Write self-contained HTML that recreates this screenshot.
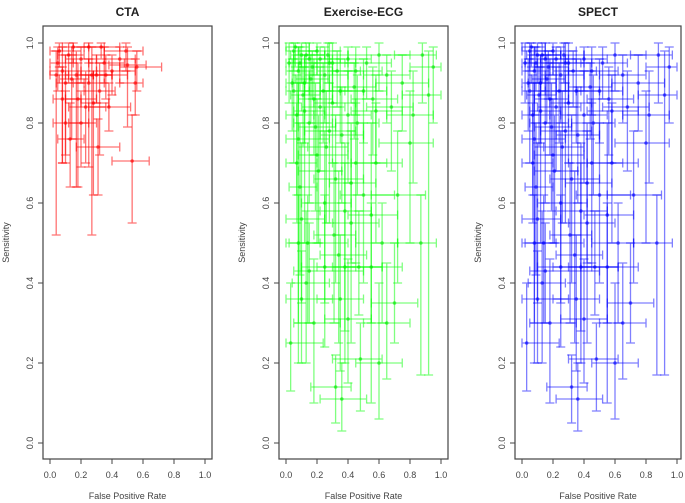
<!DOCTYPE html>
<html><head><meta charset="utf-8"><style>
html,body{margin:0;padding:0;background:#fff}
svg{display:block;font-family:"Liberation Sans",Arial,sans-serif}
</style></head><body>
<svg id="chart" width="685" height="503" viewBox="0 0 685 503"></svg>
<script>
const ctaFpr=[0.04,0.27,0.53,0.31,0.28,0.08,0.10,0.18,0.23,0.49,0.56,0.50,0.35,0.33,0.12,0.05,0.15,0.20,0.30,0.36,0.40,0.55,0.08,0.14,0.17,0.25,0.32,0.06,0.25,0.45,0.38,0.10,0.13,0.20];
const ctaSens=[0.92,0.92,0.705,0.74,0.85,0.86,0.90,0.86,0.84,0.98,0.94,0.945,0.95,0.99,0.97,0.95,0.99,0.96,0.92,0.92,0.93,0.90,0.93,0.91,0.92,0.90,0.88,0.98,0.99,0.96,0.84,0.80,0.76,0.80];
const ctaFprLo=[0.0,0.18,0.40,0.17,0.20,0.02,0.04,0.10,0.12,0.35,0.45,0.38,0.25,0.22,0.05,0.0,0.08,0.10,0.20,0.28,0.30,0.45,0.0,0.06,0.10,0.15,0.22,0.0,0.15,0.35,0.25,0.02,0.05,0.12];
const ctaFprHi=[0.12,0.40,0.64,0.45,0.38,0.20,0.22,0.30,0.36,0.60,0.72,0.62,0.48,0.45,0.22,0.15,0.25,0.30,0.40,0.50,0.55,0.60,0.20,0.25,0.28,0.35,0.42,0.14,0.35,0.55,0.52,0.25,0.22,0.30];
const ctaSensLo=[0.52,0.52,0.55,0.62,0.62,0.70,0.72,0.64,0.70,0.93,0.88,0.79,0.90,0.96,0.90,0.88,0.95,0.90,0.85,0.86,0.87,0.82,0.70,0.76,0.64,0.69,0.72,0.94,0.95,0.90,0.78,0.70,0.64,0.69];
const ctaSensHi=[0.98,0.99,0.82,0.81,0.93,0.94,0.97,0.95,0.93,1.0,0.98,0.99,0.99,1.0,1.0,0.99,1.0,0.99,0.97,0.97,0.97,0.96,0.99,0.97,0.98,0.96,0.95,1.0,1.0,0.99,0.90,0.88,0.85,0.88];

const ecgFpr=[0.05,0.10,0.15,0.20,0.08,0.12,0.25,0.30,0.45,0.60,0.88,0.95,0.05,0.18,0.35,0.12,0.22,0.40,0.92,0.58,0.08,0.15,0.28,0.45,0.20,0.32,0.50,0.25,0.38,0.10,0.55,0.42,0.08,0.14,0.62,0.87,0.34,0.38,0.47,0.55,0.25,0.15,0.35,0.10,0.03,0.40,0.48,0.32,0.36,0.70,0.65,0.80,0.72,0.18,0.60,0.02,0.07,0.28,0.50,0.75,
0.06,0.09,0.13,0.17,0.22,0.27,0.33,0.40,0.52,0.65,0.04,0.11,0.16,0.24,0.30,0.44,0.56,0.68,0.07,0.19,0.26,0.36,0.09,0.21,0.31,0.42,0.13,0.46,0.58,0.82];
const ecgSens=[0.98,0.97,0.96,0.98,0.93,0.90,0.92,0.95,0.93,0.97,0.97,0.94,0.88,0.86,0.88,0.83,0.84,0.82,0.87,0.83,0.76,0.80,0.78,0.70,0.72,0.66,0.62,0.60,0.58,0.56,0.57,0.55,0.50,0.50,0.50,0.50,0.47,0.44,0.44,0.44,0.44,0.43,0.36,0.36,0.25,0.31,0.21,0.14,0.11,0.35,0.30,0.75,0.62,0.30,0.20,0.95,0.70,0.95,0.88,0.90,
0.99,0.95,0.97,0.94,0.96,0.97,0.93,0.96,0.95,0.92,0.90,0.87,0.91,0.88,0.85,0.89,0.86,0.84,0.82,0.79,0.74,0.77,0.64,0.68,0.52,0.65,0.40,0.80,0.70,0.82];
const ecgFprLo=[0.0,0.03,0.05,0.08,0.0,0.04,0.15,0.18,0.30,0.40,0.70,0.80,0.0,0.08,0.22,0.05,0.10,0.25,0.75,0.42,0.0,0.05,0.12,0.30,0.08,0.18,0.35,0.10,0.22,0.0,0.40,0.30,0.0,0.02,0.45,0.72,0.22,0.20,0.30,0.38,0.10,0.05,0.20,0.0,0.0,0.25,0.30,0.16,0.22,0.55,0.50,0.60,0.55,0.05,0.45,0.0,0.0,0.12,0.35,0.58,
0.0,0.02,0.05,0.08,0.12,0.15,0.20,0.28,0.38,0.50,0.0,0.03,0.06,0.12,0.18,0.30,0.42,0.52,0.0,0.08,0.14,0.22,0.02,0.08,0.18,0.28,0.04,0.32,0.42,0.65];
const ecgFprHi=[0.2,0.25,0.30,0.35,0.18,0.22,0.40,0.45,0.62,0.80,0.97,1.0,0.15,0.30,0.50,0.25,0.38,0.55,1.0,0.75,0.28,0.30,0.45,0.65,0.40,0.50,0.70,0.42,0.55,0.25,0.72,0.60,0.22,0.40,0.72,0.97,0.52,0.62,0.62,0.75,0.45,0.50,0.50,0.30,0.24,0.55,0.62,0.42,0.52,0.85,0.80,0.95,0.90,0.35,0.75,0.10,0.20,0.40,0.65,0.92,
0.15,0.20,0.25,0.30,0.35,0.40,0.48,0.55,0.68,0.80,0.12,0.22,0.28,0.38,0.45,0.58,0.72,0.82,0.18,0.32,0.40,0.50,0.20,0.36,0.45,0.58,0.28,0.60,0.75,0.95];
const ecgSensLo=[0.93,0.90,0.88,0.92,0.82,0.75,0.80,0.85,0.82,0.88,0.85,0.80,0.70,0.72,0.75,0.50,0.68,0.65,0.17,0.70,0.20,0.60,0.55,0.45,0.50,0.40,0.40,0.35,0.20,0.35,0.30,0.25,0.30,0.30,0.30,0.17,0.25,0.28,0.32,0.10,0.24,0.30,0.18,0.20,0.13,0.15,0.08,0.05,0.03,0.25,0.16,0.50,0.40,0.10,0.06,0.85,0.55,0.88,0.75,0.78,
0.94,0.88,0.90,0.86,0.88,0.90,0.84,0.88,0.86,0.80,0.78,0.74,0.80,0.75,0.70,0.76,0.72,0.68,0.62,0.58,0.55,0.60,0.42,0.50,0.30,0.45,0.20,0.62,0.50,0.65];
const ecgSensHi=[1.0,1.0,1.0,1.0,0.99,0.97,0.99,1.0,0.99,1.0,1.0,0.99,0.96,0.95,0.96,0.94,0.94,0.93,0.98,0.92,0.90,0.92,0.90,0.85,0.86,0.82,0.80,0.78,0.75,0.75,0.80,0.78,0.62,0.62,0.60,0.62,0.68,0.70,0.58,0.60,0.62,0.55,0.52,0.48,0.40,0.46,0.30,0.22,0.20,0.50,0.45,0.88,0.78,0.46,0.40,1.0,0.85,1.0,0.96,0.97,
1.0,0.99,1.0,0.98,0.99,1.0,0.98,0.99,0.99,0.97,0.96,0.94,0.97,0.95,0.93,0.95,0.94,0.93,0.92,0.90,0.88,0.89,0.80,0.82,0.70,0.80,0.58,0.92,0.85,0.93];

const spectFpr=[...ecgFpr];
const spectSens=[...ecgSens];
const spectFprLo=[...ecgFprLo];
const spectFprHi=[...ecgFprHi];
const spectSensLo=[...ecgSensLo];
const spectSensHi=[...ecgSensHi];

const xTickLabels=["0.0","0.2","0.4","0.6","0.8","1.0"];
const yTickLabels=["0.0","0.2","0.4","0.6","0.8","1.0"];

const NS="http://www.w3.org/2000/svg";
const svgEl=document.getElementById('chart');
function mk(tag,attrs,parent){const e=document.createElementNS(NS,tag);for(const k in attrs)e.setAttribute(k,attrs[k]);(parent||svgEl).appendChild(e);return e;}

const panels=[
 {key:'cta',title:'CTA',left:43,right:212,x0:50,color:'rgba(255,0,0,0.55)',dot:'rgba(255,0,0,0.6)',f:ctaFpr,s:ctaSens,fl:ctaFprLo,fh:ctaFprHi,sl:ctaSensLo,sh:ctaSensHi},
 {key:'exercise-ecg',title:'Exercise-ECG',left:279,right:448,x0:286,color:'rgba(0,255,0,0.5)',dot:'rgba(0,230,0,0.6)',f:ecgFpr,s:ecgSens,fl:ecgFprLo,fh:ecgFprHi,sl:ecgSensLo,sh:ecgSensHi},
 {key:'spect',title:'SPECT',left:515,right:681,x0:522,color:'rgba(0,0,255,0.5)',dot:'rgba(0,0,255,0.6)',f:spectFpr,s:spectSens,fl:spectFprLo,fh:spectFprHi,sl:spectSensLo,sh:spectSensHi}
];
const plotTop=26,plotBottom=459,cap=4.5;
function yS(v){return 443-400*v;}

panels.forEach(p=>{
 const g=mk('g',{});
 
 
 const xS=v=>p.x0+155*v;
 const t=mk('text',{x:(p.left+p.right)/2,y:16,'text-anchor':'middle','font-size':'12','font-weight':'bold',fill:'#222'},g);
 t.textContent=p.title;
 
 
 const marks=mk('g',{fill:'none',stroke:p.color,'stroke-width':'1.3'},g);
 
 
 const n=Math.min(p.f.length,p.s.length,p.fl.length,p.fh.length,p.sl.length,p.sh.length);
 for(let i=0;i<n;i++){
  const cx=xS(p.f[i]),cy=yS(p.s[i]);
  const v=mk('path',{d:`M${cx},${yS(p.sl[i])}V${yS(p.sh[i])}M${cx-cap},${yS(p.sl[i])}h${2*cap}M${cx-cap},${yS(p.sh[i])}h${2*cap}`},marks);
  
  
  const h=mk('path',{d:`M${xS(p.fl[i])},${cy}H${xS(p.fh[i])}M${xS(p.fl[i])},${cy-cap}v${2*cap}M${xS(p.fh[i])},${cy-cap}v${2*cap}`},marks);
  
  
  const c=mk('circle',{cx:cx,cy:cy,r:1.8,fill:p.dot,stroke:'none'},marks);
  
  
 }
 const box=mk('rect',{x:p.left,y:plotTop,width:p.right-p.left,height:plotBottom-plotTop,fill:'none',stroke:'#444','stroke-width':'1.2'},g);
 
 
 const xa=mk('g',{},g);
 
 
 xTickLabels.forEach(lbl=>{
  const x=xS(parseFloat(lbl));
  mk('line',{x1:x,x2:x,y1:plotBottom,y2:plotBottom+5,stroke:'#444'},xa);
  const tt=mk('text',{x:x,y:478,'text-anchor':'middle','font-size':'9',fill:'#444'},xa);
  tt.textContent=lbl;
 });
 const xt=mk('text',{x:(p.left+p.right)/2,y:499,'text-anchor':'middle','font-size':'9',fill:'#444'},g);
 xt.textContent='False Positive Rate';
 
 
 const ya=mk('g',{},g);
 
 
 yTickLabels.forEach(lbl=>{
  const y=yS(parseFloat(lbl));
  mk('line',{x1:p.left,x2:p.left-5,y1:y,y2:y,stroke:'#444'},ya);
  const tx=p.left-10;
  const tt=mk('text',{x:tx,y:y,'text-anchor':'middle','font-size':'9',fill:'#444',transform:`rotate(-90 ${tx} ${y})`},ya);
  tt.textContent=lbl;
 });
 const yx=p.left-34, yy=(plotTop+plotBottom)/2;
 const yt=mk('text',{x:yx,y:yy,'text-anchor':'middle','font-size':'9',fill:'#444',transform:`rotate(-90 ${yx} ${yy})`},g);
 yt.textContent='Sensitivity';
 
 
});
</script>
</body></html>
